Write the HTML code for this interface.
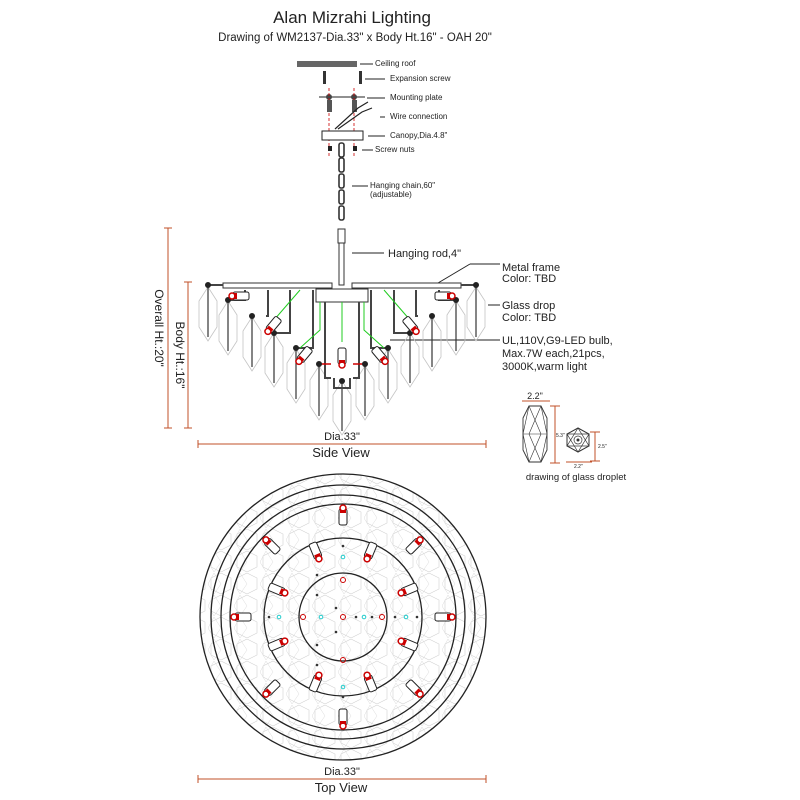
<!DOCTYPE html>
<html><head><meta charset="utf-8"><style>
html,body{margin:0;padding:0;background:#fff;}
svg{display:block;font-family:"Liberation Sans",sans-serif;}
</style></head><body>
<svg width="800" height="800" viewBox="0 0 800 800" xmlns="http://www.w3.org/2000/svg">
<defs>
<g id="drop"><polygon points="0,0 9,14 9,40 0,54 -9,40 -9,14" fill="none" stroke="#c4c4c4" stroke-width="0.8"/><line x1="0" y1="-2" x2="0" y2="50" stroke="#333" stroke-width="1.2"/></g>
<g id="bulb"><rect x="-4" y="-10" width="8" height="16" rx="2" fill="#fff" stroke="#222" stroke-width="1"/><circle cx="0" cy="-11" r="3" fill="#fff" stroke="#c00" stroke-width="1.5"/><rect x="-3" y="-9" width="6" height="3" fill="#c00"/></g>
<pattern id="hex" width="26" height="22" patternUnits="userSpaceOnUse"><polygon points="13,1 23,6 23,17 13,22 3,17 3,6" fill="none" stroke="#d0d0d0" stroke-width="0.6"/><polygon points="0,12 6,1 13,12 6,22" fill="none" stroke="#dadada" stroke-width="0.5"/></pattern>
</defs>
<text x="352" y="23" font-size="17" text-anchor="middle" fill="#222">Alan Mizrahi Lighting</text>
<text x="355" y="41" font-size="11.5" text-anchor="middle" fill="#222">Drawing of WM2137-Dia.33" x Body Ht.16" - OAH 20"</text>

<g font-size="8" fill="#222">
<line x1="360" y1="64" x2="373" y2="64" stroke="#222"/><text x="375" y="66">Ceiling roof</text>
<line x1="365" y1="79" x2="385" y2="79" stroke="#222"/><text x="390" y="81">Expansion screw</text>
<line x1="367" y1="98" x2="385" y2="98" stroke="#222"/><text x="390" y="100">Mounting plate</text>
<line x1="380" y1="117" x2="385" y2="117" stroke="#222"/><text x="390" y="119">Wire connection</text>
<line x1="368" y1="136" x2="385" y2="136" stroke="#222"/><text x="390" y="138">Canopy,Dia.4.8"</text>
<line x1="362" y1="150" x2="373" y2="150" stroke="#222"/><text x="375" y="152">Screw nuts</text>
<line x1="352" y1="186" x2="368" y2="186" stroke="#222"/><text x="370" y="188">Hanging chain,60"</text><text x="370" y="197">(adjustable)</text>
</g>
<rect x="297" y="61" width="60" height="6" fill="#666"/>
<rect x="323" y="71" width="3" height="13" fill="#333"/><rect x="359" y="71" width="3" height="13" fill="#333"/>
<line x1="319" y1="97" x2="365" y2="97" stroke="#222"/>
<circle cx="329" cy="97" r="3" fill="#444"/><circle cx="354" cy="97" r="3" fill="#444"/>
<line x1="329" y1="88" x2="329" y2="158" stroke="#c00" stroke-dasharray="3,2" stroke-width="0.8"/>
<line x1="354" y1="88" x2="354" y2="158" stroke="#c00" stroke-dasharray="3,2" stroke-width="0.8"/>
<rect x="327" y="100" width="5" height="12" fill="#555"/><rect x="352" y="100" width="5" height="12" fill="#555"/>
<path d="M335 129 L358 108 L368 102 M338 129 L362 112 L372 108" stroke="#222" fill="none" stroke-width="1.2"/>
<rect x="322" y="131" width="41" height="9" fill="#fff" stroke="#222"/>
<rect x="328" y="146" width="4" height="5" fill="#222"/><rect x="353" y="146" width="4" height="5" fill="#222"/>
<g fill="none" stroke="#333" stroke-width="1.6">
<rect x="339" y="143" width="5" height="14" rx="2"/><rect x="339" y="158" width="5" height="14" rx="2"/><rect x="339" y="174" width="5" height="14" rx="2"/><rect x="339" y="190" width="5" height="14" rx="2"/><rect x="339" y="206" width="5" height="14" rx="2"/>
</g>
<rect x="338" y="229" width="7" height="14" fill="#fff" stroke="#333"/>
<rect x="339" y="243" width="5" height="42" fill="#fff" stroke="#333"/>
<line x1="352" y1="253" x2="384" y2="253" stroke="#222"/>
<text x="388" y="257" font-size="11" fill="#222">Hanging rod,4"</text>
<line x1="438" y1="283" x2="470" y2="264" stroke="#222"/><line x1="470" y1="264" x2="500" y2="264" stroke="#222"/>
<text x="502" y="271" font-size="11" fill="#222">Metal frame</text><text x="502" y="282" font-size="11" fill="#222">Color: TBD</text>
<line x1="488" y1="305" x2="500" y2="305" stroke="#222"/>
<text x="502" y="309" font-size="11" fill="#222">Glass drop</text><text x="502" y="321" font-size="11" fill="#222">Color: TBD</text>
<line x1="390" y1="340" x2="500" y2="340" stroke="#222"/>
<text x="502" y="344" font-size="11" fill="#222">UL,110V,G9-LED bulb,</text>
<text x="502" y="357" font-size="11" fill="#222">Max.7W each,21pcs,</text>
<text x="502" y="370" font-size="11" fill="#222">3000K,warm light</text>

<use href="#drop" x="208" y="287"/><use href="#drop" x="476" y="287"/>
<use href="#drop" x="228" y="301"/><use href="#drop" x="456" y="301"/>
<use href="#drop" x="252" y="317"/><use href="#drop" x="432" y="317"/>
<use href="#drop" x="274" y="333"/><use href="#drop" x="410" y="333"/>
<use href="#drop" x="296" y="349"/><use href="#drop" x="388" y="349"/>
<use href="#drop" x="319" y="366"/><use href="#drop" x="365" y="366"/>
<use href="#drop" x="342" y="381"/>
<rect x="223" y="283" width="109" height="5" fill="#fff" stroke="#333"/>
<rect x="352" y="283" width="109" height="5" fill="#fff" stroke="#333"/>
<rect x="316" y="289" width="52" height="13" fill="#fff" stroke="#333"/>
<g stroke="#444" stroke-width="2" fill="none">
<path d="M208 285 H223"/><path d="M476 285 H461"/>
<path d="M228 300 H245 V290"/><path d="M456 300 H439 V290"/>
<path d="M266 316 H268 V290"/><path d="M418 316 H416 V290"/>
<path d="M274 333 H290 V290"/><path d="M410 333 H394 V290"/>
<path d="M296 348 H313 V290"/><path d="M388 348 H371 V290"/>
<path d="M325 302 V378 H331 M359 302 V378 H353"/>
<path d="M334 378 V388 H350 V378"/>
</g>
<g stroke="#2c2" stroke-width="1" fill="none"><path d="M300 290 L274 320"/><path d="M384 290 L410 320"/><path d="M320 302 V330 L300 348"/><path d="M364 302 V330 L384 348"/><line x1="342" y1="302" x2="342" y2="342"/></g>
<line x1="319" y1="364" x2="331" y2="364" stroke="#c00" stroke-width="1.5"/><line x1="353" y1="364" x2="365" y2="364" stroke="#c00" stroke-width="1.5"/>
<g fill="#222">
<circle cx="208" cy="285" r="3"/><circle cx="476" cy="285" r="3"/><circle cx="228" cy="300" r="3"/><circle cx="456" cy="300" r="3"/>
<circle cx="252" cy="316" r="3"/><circle cx="432" cy="316" r="3"/><circle cx="274" cy="333" r="3"/><circle cx="410" cy="333" r="3"/>
<circle cx="296" cy="348" r="3"/><circle cx="388" cy="348" r="3"/><circle cx="319" cy="364" r="3"/><circle cx="365" cy="364" r="3"/><circle cx="342" cy="381" r="3"/>
</g>
<use href="#bulb" transform="translate(243,296) rotate(-90)"/><use href="#bulb" transform="translate(441,296) rotate(90)"/>
<use href="#bulb" transform="translate(275,323) rotate(-140)"/><use href="#bulb" transform="translate(409,323) rotate(140)"/>
<use href="#bulb" transform="translate(306,353) rotate(-140)"/><use href="#bulb" transform="translate(378,353) rotate(140)"/>
<use href="#bulb" transform="translate(342,354) rotate(180)"/>

<g stroke="#c0502a" stroke-width="1" fill="none">
<line x1="168" y1="228" x2="168" y2="428"/><line x1="164" y1="228" x2="172" y2="228"/><line x1="164" y1="428" x2="172" y2="428"/>
<line x1="188" y1="282" x2="188" y2="428"/><line x1="184" y1="282" x2="192" y2="282"/><line x1="184" y1="428" x2="192" y2="428"/>
<line x1="198" y1="444" x2="486" y2="444"/><line x1="198" y1="440" x2="198" y2="448"/><line x1="486" y1="440" x2="486" y2="448"/>
<line x1="198" y1="779" x2="486" y2="779"/><line x1="198" y1="775" x2="198" y2="783"/><line x1="486" y1="775" x2="486" y2="783"/>
<line x1="522" y1="401" x2="550" y2="401"/><line x1="555" y1="406" x2="555" y2="463"/><line x1="550" y1="406" x2="560" y2="406"/><line x1="550" y1="463" x2="560" y2="463"/>
<line x1="595" y1="432" x2="595" y2="461"/><line x1="590" y1="432" x2="600" y2="432"/><line x1="590" y1="461" x2="600" y2="461"/>
<line x1="566" y1="462" x2="592" y2="462"/>
</g>
<text transform="translate(155,328) rotate(90)" font-size="12" text-anchor="middle" fill="#222">Overall Ht.:20"</text>
<text transform="translate(176,355) rotate(90)" font-size="12" text-anchor="middle" fill="#222">Body Ht.:16"</text>
<text x="342" y="440" font-size="11" text-anchor="middle" fill="#222">Dia.33"</text>
<text x="341" y="457" font-size="13" text-anchor="middle" fill="#222">Side View</text>
<text x="342" y="775" font-size="11" text-anchor="middle" fill="#222">Dia.33"</text>
<text x="341" y="792" font-size="13" text-anchor="middle" fill="#222">Top View</text>

<polygon points="529,406 541,406 547,418 547,450 541,462 529,462 523,450 523,418" fill="none" stroke="#333" stroke-width="0.9"/>
<path d="M529,406 L523,434 L529,462 M541,406 L547,434 L541,462 M529,406 L541,434 L529,462 M541,406 L529,434 L541,462 M523,434 H547" fill="none" stroke="#333" stroke-width="0.6"/>
<polygon points="578,428 589,434 589,446 578,452 567,446 567,434" fill="none" stroke="#333"/>
<polygon points="578,428 589,446 567,446" fill="none" stroke="#333" stroke-width="0.7"/><polygon points="578,452 589,434 567,434" fill="none" stroke="#333" stroke-width="0.7"/>
<circle cx="578" cy="440" r="4" fill="none" stroke="#333" stroke-width="0.7"/><circle cx="578" cy="440" r="1.5" fill="#333"/>
<text x="535" y="399" font-size="9" text-anchor="middle" fill="#222">2.2"</text>
<text x="556" y="437" font-size="5" fill="#222">5.3"</text><text x="598" y="448" font-size="5" fill="#222">2.5"</text><text x="574" y="468" font-size="5" fill="#222">2.2"</text>
<text x="576" y="480" font-size="9.5" text-anchor="middle" fill="#222">drawing of glass droplet</text>

<circle cx="343" cy="617" r="143" fill="url(#hex)" stroke="#222" stroke-width="1.3"/>
<g fill="none" stroke="#222" stroke-width="1.3">
<circle cx="343" cy="617" r="132"/><circle cx="343" cy="617" r="122"/><circle cx="343" cy="617" r="113"/>
<circle cx="343" cy="617" r="79"/><circle cx="343" cy="617" r="44"/>
</g>
<g transform="translate(343,617)">
<use href="#bulb" transform="rotate(0) translate(0,-98)"/><use href="#bulb" transform="rotate(45) translate(0,-98)"/>
<use href="#bulb" transform="rotate(90) translate(0,-98)"/><use href="#bulb" transform="rotate(135) translate(0,-98)"/>
<use href="#bulb" transform="rotate(180) translate(0,-98)"/><use href="#bulb" transform="rotate(225) translate(0,-98)"/>
<use href="#bulb" transform="rotate(270) translate(0,-98)"/><use href="#bulb" transform="rotate(315) translate(0,-98)"/>
<use href="#bulb" transform="rotate(22.5) translate(0,-74) rotate(180)"/><use href="#bulb" transform="rotate(67.5) translate(0,-74) rotate(180)"/>
<use href="#bulb" transform="rotate(112.5) translate(0,-74) rotate(180)"/><use href="#bulb" transform="rotate(157.5) translate(0,-74) rotate(180)"/>
<use href="#bulb" transform="rotate(202.5) translate(0,-74) rotate(180)"/><use href="#bulb" transform="rotate(247.5) translate(0,-74) rotate(180)"/>
<use href="#bulb" transform="rotate(292.5) translate(0,-74) rotate(180)"/><use href="#bulb" transform="rotate(337.5) translate(0,-74) rotate(180)"/>
<g fill="none" stroke="#c00" stroke-width="1"><circle cx="0" cy="0" r="2.5"/><circle cx="-40" cy="0" r="2.5"/><circle cx="39" cy="0" r="2.5"/><circle cx="0" cy="-37" r="2.5"/><circle cx="0" cy="43" r="2.5"/></g>
<g fill="none" stroke="#2cc" stroke-width="1"><circle cx="-64" cy="0" r="1.8"/><circle cx="-22" cy="0" r="1.8"/><circle cx="21" cy="0" r="1.8"/><circle cx="63" cy="0" r="1.8"/><circle cx="0" cy="-60" r="1.8"/><circle cx="0" cy="70" r="1.8"/></g>
<g fill="#333"><circle cx="-74" cy="0" r="1.3"/><circle cx="13" cy="0" r="1.3"/><circle cx="29" cy="0" r="1.3"/><circle cx="52" cy="0" r="1.3"/><circle cx="74" cy="0" r="1.3"/><circle cx="0" cy="-71" r="1.3"/><circle cx="0" cy="80" r="1.3"/><circle cx="-26" cy="-22" r="1.3"/><circle cx="-7" cy="-9" r="1.3"/><circle cx="-7" cy="15" r="1.3"/><circle cx="-26" cy="28" r="1.3"/><circle cx="-26" cy="-42" r="1.3"/><circle cx="-26" cy="48" r="1.3"/></g>
</g>
</svg>
</body></html>
